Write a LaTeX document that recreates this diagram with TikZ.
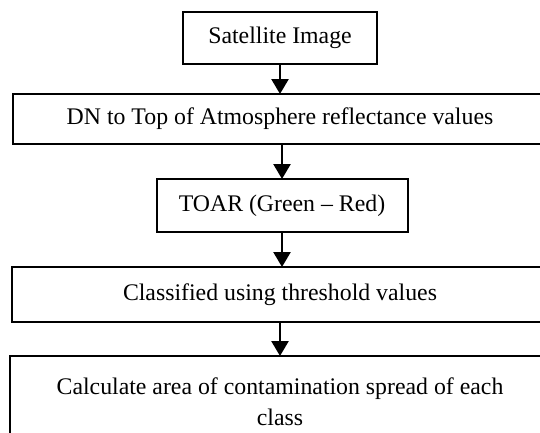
\documentclass[tikz,border=0pt]{standalone}
\usepackage{fontspec}
\setmainfont{Liberation Serif}
\usetikzlibrary{positioning,arrows.meta}

\begin{document}
\begin{tikzpicture}[x=1bp,y=1bp,
box/.style={draw,line width=2bp,rectangle,outer sep=0pt,inner sep=0pt,align=center,
  font=\fontsize{23.8bp}{31bp}\selectfont},
flow/.style={line width=2.5bp,-{Triangle[width=17bp,length=15bp]}}]
\useasboundingbox (0,0) rectangle (540,-432);
\clip (0,0) rectangle (540,-432);
\node (sat) [box,minimum width=194bp,minimum height=52bp] at (280,-38) {Satellite Image};
\node (toa) [box,minimum width=533bp,minimum height=50bp,
    below=30bp of sat] {DN to Top of Atmosphere reflectance values};
\node (toar) [box,minimum width=251bp,minimum height=53bp,
    below=35bp of toa,xshift=2bp] {TOAR (Green -- Red)};
\node (cls) [box,minimum width=535bp,minimum height=55bp,
    below=35bp of toar,xshift=-2bp] {Classified using threshold values};
\node (area) [box,minimum width=540bp,minimum height=92bp,
    below=34bp of cls] {Calculate area of contamination spread of each\\class};
\draw [flow] (sat) -- (toa);
\draw [flow] (toar.north |- toa.south) -- (toar.north);
\draw [flow] (toar.south) -- (toar.south |- cls.north);
\draw [flow] (cls) -- (area);
\end{tikzpicture}
\end{document}
